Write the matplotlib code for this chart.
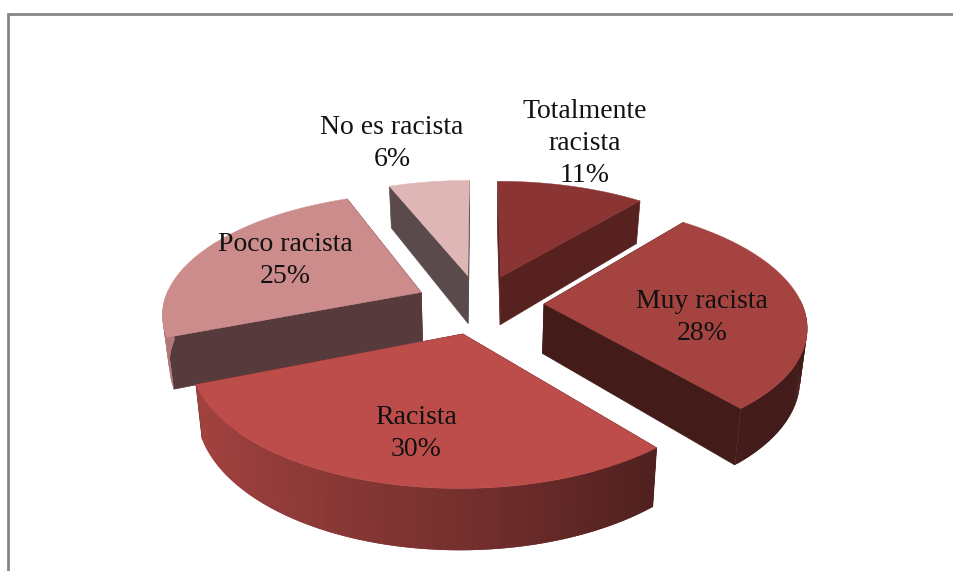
import matplotlib

matplotlib.use("Agg")
import matplotlib.pyplot as plt
import numpy as np

labels = ["Totalmente\nracista", "Muy racista", "Racista", "Poco racista", "No es racista"]
values = [11, 28, 30, 25, 6]
explode = [0.25, 0.25, 0.25, 0.25, 0.25]

top_colors = ["#8A3533", "#A54341", "#BD4D4A", "#CC8C8B", "#DFB6B6"]
wall_colors = ["#57211F", "#431C19", "#4A1E1C", "#573A3C", "#5A4A4B"]
label_pos = [(585, 143.5), (702, 317.5), (416, 433.5), (285, 260.5), (392, 143.5)]
draw_order = [4, 0, 3, 1, 2]

# projection of the pie plane on the page
CX, CY = 479.5, 304
RX, RY = 258, 119
PERSP = 0.16
DEPTH = 49.5
SHRINK = 0.022
START = 90


def project(x, y, z=0.0):
    s = 1 / (1 + PERSP * y)
    return CX + RX * x * s * (1 - SHRINK * z), CY - RY * y * s + DEPTH * z * s


def shade(color, factor):
    return tuple(c * factor for c in matplotlib.colors.to_rgb(color))


def draw_slice(ax, t1, t2, off, top, wall):
    mid = np.radians((t1 + t2) / 2)
    ox, oy = off * np.cos(mid), off * np.sin(mid)
    ts = np.radians(np.linspace(t1, t2, 150))
    xs = ox + np.cos(ts)
    ys = oy + np.sin(ts)

    # straight walls first, the arc and the top go over them
    for t in (ts[0], ts[-1]):
        ex, ey = ox + np.cos(t), oy + np.sin(t)
        a = project(ox, oy)
        b = project(ex, ey)
        c = project(ex, ey, 1)
        d = project(ox, oy, 1)
        ax.fill(*zip(a, b, c, d), color=wall, lw=0.5, zorder=1)

    # each band overlaps the next one so no seams show
    for i in range(len(ts) - 1):
        if np.sin(ts[i]) > 0.02:
            continue
        j = min(i + 2, len(ts) - 1)
        f = np.interp(np.cos(ts[i]), [-1, 0, 0.7, 1], [0.88, 0.62, 0.40, 0.40])
        a = project(xs[i], ys[i])
        b = project(xs[j], ys[j])
        c = project(xs[j], ys[j], 1)
        d = project(xs[i], ys[i], 1)
        ax.fill(*zip(a, b, c, d), color=shade(top, f), lw=0, zorder=1)

    px, py = project(np.r_[ox, xs], np.r_[oy, ys])
    ax.fill(px, py, color=top, lw=0.3, zorder=1)


fig = plt.figure(figsize=(9.54, 5.71), dpi=100)
ax = fig.add_axes([0, 0, 1, 1])
ax.set_xlim(0, 954)
ax.set_ylim(571, 0)
ax.axis("off")

# clockwise from the top of the pie
ends = START - np.cumsum(values) * 3.6
starts = ends + np.array(values) * 3.6
for i in draw_order:
    draw_slice(ax, ends[i], starts[i], explode[i], top_colors[i], wall_colors[i])

for lab, val, (x, y) in zip(labels, values, label_pos):
    ax.text(x, y, f"{lab}\n{val}%", ha="center", va="center", fontsize=20,
            family="Liberation Serif", color="#111111", linespacing=1.36, zorder=5)

# frame of the embedded chart, only top and left show
ax.plot([8, 8, 954], [571, 13.5, 13.5], color="#868686", lw=2, solid_joinstyle="miter", zorder=6)

fig.savefig("out.png", dpi=100)
plt.close(fig)
